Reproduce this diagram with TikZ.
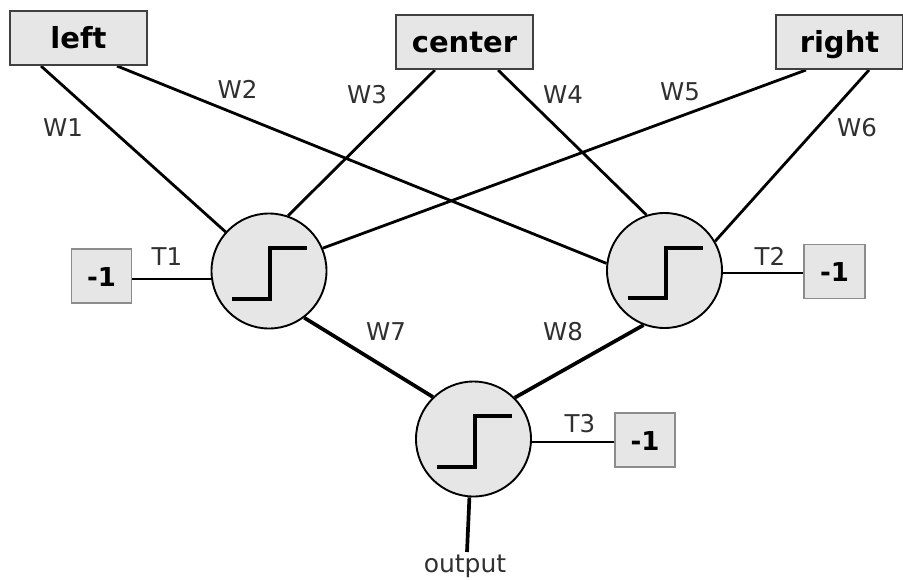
\documentclass[tikz,border=0pt]{standalone}
\usepackage{fontspec}
\setmainfont{DejaVu Sans}
\usetikzlibrary{backgrounds}
\definecolor{boxfill}{HTML}{E6E6E6}
\definecolor{boxline}{HTML}{404040}
\definecolor{biasline}{HTML}{8C8C8C}
\definecolor{labelgray}{HTML}{303030}
\begin{document}
\begin{tikzpicture}[x=1pt,y=-1pt,
  inbox/.style={draw=boxline, line width=2pt, fill=boxfill, inner sep=0pt, minimum height=54pt, text height=21pt, text depth=0pt, font=\fontsize{29}{32}\selectfont\bfseries},
  biasbox/.style={draw=biasline, line width=1.8pt, fill=boxfill, inner sep=0pt, minimum width=60pt, minimum height=54pt, text height=20pt, text depth=0pt, font=\fontsize{26}{30}\selectfont\bfseries},
  neuron/.style={circle, draw=black, line width=1.9pt, fill=boxfill, minimum size=115pt, inner sep=0pt},
  stepline/.style={line width=4pt, line join=miter},
  wire/.style={line width=2.8pt},
  heavywire/.style={line width=3.7pt},
  wlabel/.style={inner sep=0pt, text=labelgray, font=\fontsize{24.5}{28}\selectfont},
]
\useasboundingbox (0,0) rectangle (903,579);

% input boxes
\node[inbox, minimum width=137pt] (left) at (78.5,38) {left};
\node[inbox, minimum width=137pt] (center) at (464.5,42) {center};
\node[inbox, minimum width=127pt] (right) at (839.5,42) {right};

% neurons
\node[neuron] (n1) at (269,271) {};
\node[neuron] (n2) at (664.5,270.5) {};
\node[neuron] (n3) at (473.5,439) {};

% step symbols
\foreach \n in {n1,n2,n3}
  \draw[stepline] ([shift={(-37,27.5)}]\n.center) -- ++(38,0) -- ++(0,-50.5) -- ++(37,0);

% bias boxes
\node[biasbox] (b1) at (101.5,276) {-1};
\node[biasbox, minimum width=61pt] (b2) at (834.5,271.5) {-1};
\node[biasbox] (b3) at (645,440) {-1};

% output end
\coordinate (oend) at (467,552);

\begin{pgfonlayer}{background}
  \draw[wire] ([xshift=-37.5pt]left.south) -- (n1.138.4);
  \draw[wire] ([xshift=38.5pt]left.south) -- (n2.173);
  \draw[wire] ([xshift=-29.5pt]center.south) -- (n1.71.6);
  \draw[wire] ([xshift=33.5pt]center.south) -- (n2.108);
  \draw[wire] ([xshift=-33.5pt]right.south) -- (n1.23);
  \draw[wire] ([xshift=29.5pt]right.south) -- (n2.30);
  \draw[wire] ([yshift=-3pt]b1.east) -- ([yshift=-3pt]b1.east -| n1.center);
  \draw[wire] ([yshift=-1.5pt]b2.west) -- ([yshift=-1.5pt]b2.west -| n2.center);
  \draw[wire] ([yshift=-2pt]b3.west) -- ([yshift=-2pt]b3.west -| n3.center);
  \draw[heavywire] (n1.-53) -- (n3.134.6);
  \draw[heavywire] (n2.-111.7) -- (n3.45.4);
  \draw[heavywire] (n3.-94) -- (oend);
\end{pgfonlayer}

% labels
\node[wlabel] (lw1) at (63,127.5) {W1};
\node[wlabel] (lw2) at (237.5,89) {W2};
\node[wlabel] (lw3) at (367,95) {W3};
\node[wlabel] (lw4) at (563,95) {W4};
\node[wlabel] (lw5) at (680,92) {W5};
\node[wlabel] (lw6) at (857,128) {W6};
\node[wlabel] (lt1) at (167,257) {T1};
\node[wlabel] (lt2) at (770,256) {T2};
\node[wlabel] (lt3) at (580,423.5) {T3};
\node[wlabel] (lw7) at (386,332) {W7};
\node[wlabel] (lw8) at (563,332) {W8};
\node[wlabel, anchor=base, font=\fontsize{25}{29}\selectfont] (out) at (465,572) {output};
\end{tikzpicture}
\end{document}
